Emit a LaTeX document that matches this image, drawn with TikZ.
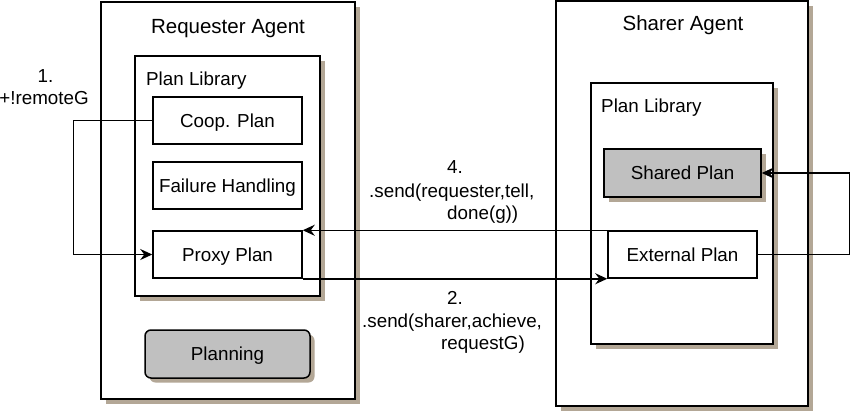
\documentclass[tikz,border=0pt]{standalone}
\usepackage{fontspec}
\setmainfont{Liberation Sans}
\usetikzlibrary{arrows.meta,shadows}
\definecolor{shadowc}{RGB}{179,167,150}
\definecolor{grayfill}{RGB}{192,192,192}
\tikzset{
  box/.style={draw=black, line width=1.5pt, fill=white, inner sep=0pt, rectangle,
    font=\fontsize{18.8}{22}\selectfont, text height=13.5pt, text depth=0pt},
  shad/.style={drop shadow={shadow xshift=4.5pt, shadow yshift=-4.5pt, fill=shadowc, opacity=1}},
  txt/.style={font=\fontsize{18.8}{22}\selectfont, inner sep=0pt},
  ttl/.style={font=\fontsize{20.5}{24}\selectfont, inner sep=0pt},
  conn/.style={line width=1.5pt},
  arr/.style={conn, -{Stealth[length=12pt,width=11pt,inset=4pt]}},
}
\begin{document}
\begin{tikzpicture}[x=1pt,y=-1pt]
\useasboundingbox (0,0) rectangle (850,413);
% Requester agent
\node[box,shad,minimum width=254pt,minimum height=397pt] (req) at (228,200.5) {};
\node[ttl,anchor=base] (reqt) at (228,33) {Requester Agent};
\node[box,shad,minimum width=185pt,minimum height=240pt] (reqlib) at (227.5,176) {};
\node[txt,anchor=base west] (reqlibt) at (146,85) {Plan Library};
\node[box,minimum width=149pt,minimum height=47pt] (coop) at (227.5,120.5) {Coop. Plan};
\node[box,minimum width=149pt,minimum height=47pt] (fail) at (227.5,185.5) {Failure Handling};
\node[box,minimum width=149pt,minimum height=47pt] (proxy) at (227.5,254.5) {Proxy Plan};
\node[box,shad,fill=grayfill,rounded corners=6pt,minimum width=165pt,minimum height=48pt] (plan) at (227.5,354) {Planning};
% Sharer agent
\node[box,shad,minimum width=252pt,minimum height=405pt] (shr) at (682,203.5) {};
\node[ttl,anchor=base] (shrt) at (683,30) {Sharer Agent};
\node[box,shad,minimum width=182pt,minimum height=261pt] (shrlib) at (682,213.5) {};
\node[txt,anchor=base west] (shrlibt) at (601,112) {Plan Library};
\node[box,shad,fill=grayfill,minimum width=157pt,minimum height=48pt] (shared) at (682.5,173) {Shared Plan};
\node[box,minimum width=149pt,minimum height=47pt] (ext) at (682.5,254.5) {External Plan};
% labels
\node[txt,anchor=base] (l1a) at (45.5,82) {1.};
\node[txt,anchor=base] (l1b) at (44,104) {+!remoteG};
\node[txt,anchor=base west] (l4a) at (447,173) {4.};
\node[txt,anchor=base west] (l4b) at (369,197) {.send(requester,tell,};
\node[txt,anchor=base west] (l4c) at (447,219) {done(g))};
\node[txt,anchor=base west] (l2a) at (447,304) {2.};
\node[txt,anchor=base west] (l2b) at (362,327) {.send(sharer,achieve,};
\node[txt,anchor=base west] (l2c) at (441,349) {requestG)};
% connectors
\draw[arr] (coop.west) -- ++(-79,0) |- (proxy.west);
\draw[arr] (ext.north west) -- (proxy.north east);
\draw[arr] (proxy.south east) -- (ext.south west);
\draw[arr] (ext.east) -- ++(91.5,0) |- (shared.east);
\end{tikzpicture}
\end{document}
